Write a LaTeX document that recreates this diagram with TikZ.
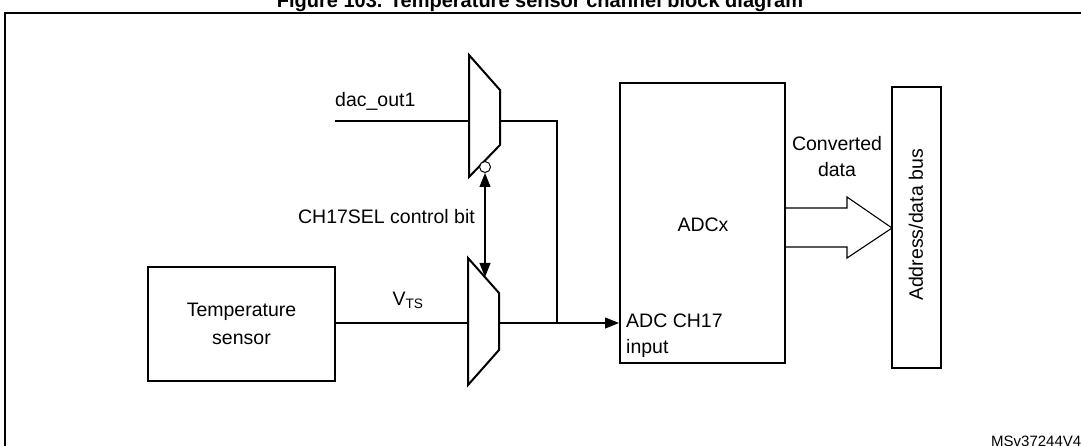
\documentclass[tikz,border=0pt]{standalone}
\usepackage{fontspec}
\setmainfont{Liberation Sans}
\usetikzlibrary{positioning,arrows.meta}

\tikzset{
  blk/.style={draw, line width=2pt},
  wire/.style={line width=1.1pt},
  lbl/.style={font=\fontsize{19.5}{23}\selectfont, inner sep=0pt},
}

\begin{document}
\begin{tikzpicture}[x=1pt,y=-1pt]
  \useasboundingbox (0,0) rectangle (1081,446);
  \clip (0,0) rectangle (1081,446);

  % Frame and title
  \draw[line width=1.8pt] (5,13) rectangle (1090,460);
  \node[font=\bfseries\fontsize{20}{24}\selectfont, inner sep=0pt] (title) at (540,2) {Figure 103. Temperature sensor channel block diagram};

  % Blocks
  \node[blk, minimum width=187, minimum height=114, lbl, align=center] (temp) at (241.5,324) {Temperature\\[5pt]sensor};
  \node[blk, minimum width=165, minimum height=280] (adc) at (702.5,223) {};
  \node[lbl] (adcx) at (703,225) {ADCx};
  \node[lbl, anchor=north west, align=left] (adcin) at (626,314) {ADC CH17\\[3pt]input};
  \node[blk, minimum width=49, minimum height=281] (bus) at (916.5,227.5) {};
  \node[lbl, rotate=90] (buslbl) at (916,225) {Address/data bus};

  % Multiplexers
  \draw[blk] (469,55) -- (500,90) -- (500,145) -- (469,177) -- cycle;
  \draw[blk] (468,258) -- (499,293) -- (499,350) -- (468,385) -- cycle;
  \node[draw, circle, line width=1pt, fill=white, minimum size=11, inner sep=0pt] (inv) at (485,167) {};
  \coordinate (selin) at (485,277);

  % Wires
  \coordinate (dacin) at (335,121);
  \coordinate (muxa) at (469,121);
  \coordinate (muxaout) at (500,121);
  \coordinate (muxbout) at (499,323);
  \coordinate (join) at (557,323);
  \draw[wire] (dacin) -- (muxa);
  \node[lbl, anchor=south west] (dac) at (335,111) {dac\_out1};
  \draw[wire] (muxaout) -| (join);
  \draw[wire, -{Triangle[length=14pt,width=11pt]}] (muxbout) -- (adc.west |- muxbout);
  \draw[wire] (temp.east |- muxbout) -- (468,323);
  \node[lbl] (vts) at (408,300) {V\textsubscript{TS}};
  \draw[wire, {Triangle[length=14pt,width=11pt]}-{Triangle[length=14pt,width=11pt]}] (inv) -- (selin);
  \node[lbl, anchor=east] (sel) at (475,217) {CH17SEL control bit};

  % Converted data arrow
  \draw[wire] (adc.east |- 0,208) -- (847,208) -- (847,197) -- (892,228)
    -- (847,258) -- (847,247) -- (adc.east |- 0,247);
  \node[lbl, align=center] (conv) at (837,157) {Converted\\[3pt]data};

  % Figure id
  \node[font=\fontsize{15}{18}\selectfont, inner sep=0pt, anchor=west] (fid) at (991,441) {MSv37244V4};
\end{tikzpicture}
\end{document}
